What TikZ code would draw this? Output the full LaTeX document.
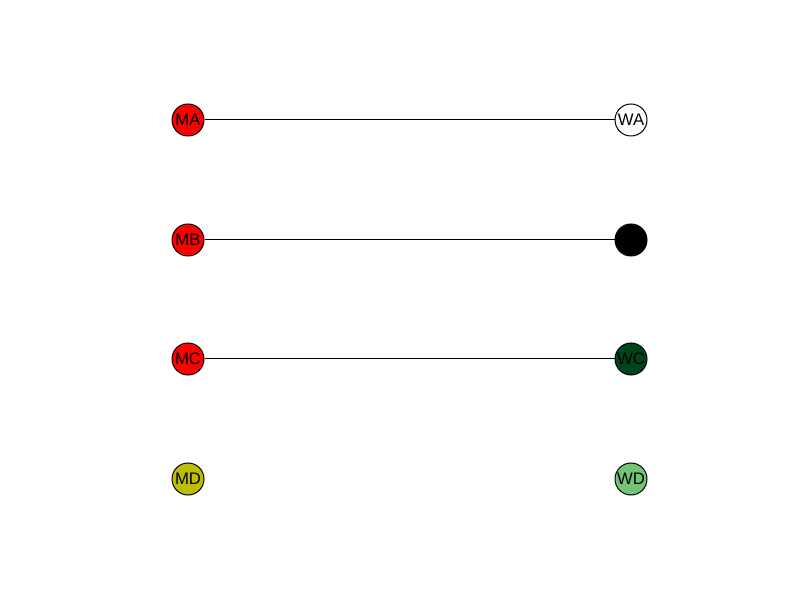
\documentclass[tikz,border=0pt]{standalone}
\usepackage{fontspec}
\setmainfont{Liberation Sans}
\definecolor{cmd}{RGB}{190,190,0}
\definecolor{cwc}{RGB}{0,68,27}
\definecolor{cwd}{RGB}{116,196,118}
\begin{document}
\begin{tikzpicture}[x=1pt,y=1pt,
  nd/.style={circle,draw=black,line width=1pt,minimum size=32pt,inner sep=0pt,font=\fontsize{16.7}{18}\selectfont},
  ed/.style={line width=1pt}]
\useasboundingbox (0,0) rectangle (800,600);
\node[nd,fill=red] (MA) at (188,480) {MA};
\node[nd,fill=white] (WA) at (631,480) {WA};
\node[nd,fill=red] (MB) at (188,360) {MB};
\node[nd,fill=black] (WB) at (631,360) {};
\node[nd,fill=red] (MC) at (188,241) {MC};
\node[nd,fill=cwc] (WC) at (631,241) {WC};
\node[nd,fill=cmd] (MD) at (188,121) {MD};
\node[nd,fill=cwd] (WD) at (631,121) {WD};
\draw[ed] (MA) -- (WA);
\draw[ed] (MB) -- (WB);
\draw[ed] (MC) -- (WC);
\end{tikzpicture}
\end{document}
